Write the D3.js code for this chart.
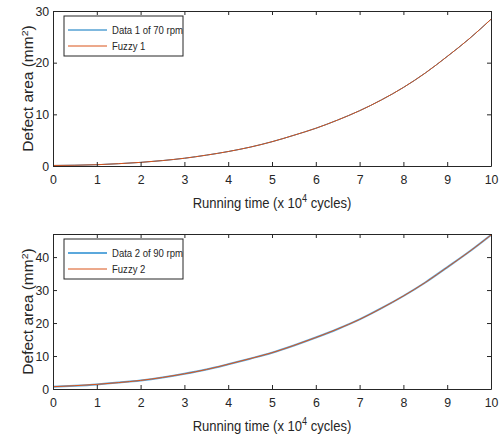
<!DOCTYPE html>
<html>
<head>
<meta charset="utf-8">
<script src="https://cdn.jsdelivr.net/npm/d3@7"></script>
<style>
  body { margin: 0; background: #fff; }
  text { font-family: "Liberation Sans", Arial, sans-serif; fill: #262626; }
</style>
</head>
<body>
<script>
// running time (x 10^4 cycles)
var cycles = [0, 0.5, 1, 1.5, 2, 2.5, 3, 3.5, 4, 4.5, 5, 5.5, 6, 6.5, 7, 7.5, 8, 8.5, 9, 9.5, 10];
// defect area, 70 rpm
var data70 = [0.1, 0.15, 0.25, 0.45, 0.7, 1.05, 1.5, 2.1, 2.8, 3.65, 4.7, 5.95, 7.3, 8.9, 10.7, 12.8, 15.2, 18.0, 21.2, 24.6, 28.4];
var fuzzy70 = [0.1, 0.15, 0.25, 0.45, 0.7, 1.05, 1.5, 2.1, 2.8, 3.65, 4.7, 5.95, 7.3, 8.9, 10.7, 12.8, 15.2, 18.0, 21.2, 24.6, 28.4];
// defect area, 90 rpm
var data90 = [0.7, 1.0, 1.4, 1.95, 2.6, 3.5, 4.6, 5.9, 7.5, 9.2, 11.0, 13.2, 15.6, 18.2, 21.1, 24.5, 28.2, 32.3, 36.9, 41.6, 46.7];
var fuzzy90 = [0.7, 1.0, 1.4, 1.95, 2.6, 3.5, 4.6, 5.9, 7.5, 9.2, 11.0, 13.2, 15.6, 18.2, 21.1, 24.5, 28.2, 32.3, 36.9, 41.6, 46.7];
var xTicks = [0, 1, 2, 3, 4, 5, 6, 7, 8, 9, 10];

var sx = 0.83; // legend text is narrow

var svg = d3.select("body").append("svg")
    .attr("width", 500).attr("height", 434);

function drawPanel(top, yMax, yTicks, dataVals, fuzzyVals, names, styles) {
    var left = 53, right = 491, bottom = top + 155;
    var x = d3.scaleLinear().domain([0, 10]).range([left, right]);
    var y = d3.scaleLinear().domain([0, yMax]).range([bottom, top]);
    var g = svg.append("g");

    var line = d3.line()
        .x(function(d, i) { return x(cycles[i]); })
        .y(function(d) { return y(d); })
        .curve(d3.curveMonotoneX);

    g.append("path").attr("d", line(dataVals))
        .attr("fill", "none").attr("stroke", styles.blue).attr("stroke-width", styles.blueW);
    g.append("path").attr("d", line(fuzzyVals))
        .attr("fill", "none").attr("stroke", styles.orange).attr("stroke-width", 1);

    // axes, ticks inward on all four sides
    var ax = d3.axisBottom(x).tickValues(xTicks).tickSizeInner(-4).tickSizeOuter(0).tickPadding(9);
    var ay = d3.axisLeft(y).tickValues(yTicks).tickSizeInner(-4).tickSizeOuter(0).tickPadding(4);
    var axT = d3.axisTop(x).tickValues(xTicks).tickSizeInner(-4).tickSizeOuter(0).tickFormat("");
    var ayR = d3.axisRight(y).tickValues(yTicks).tickSizeInner(-4).tickSizeOuter(0).tickFormat("");

    [[ax, "translate(0," + bottom + ")"], [ay, "translate(" + left + ",0)"],
     [axT, "translate(0," + top + ")"], [ayR, "translate(" + right + ",0)"]].forEach(function(a) {
        var s = g.append("g").attr("transform", a[1]).call(a[0]);
        s.selectAll("path,line").attr("stroke", "#262626");
        s.selectAll("text").style("font-size", "13px").attr("fill", "#262626")
            .style("font-family", "'Liberation Sans', Arial, sans-serif")
            .attr("transform", "scale(0.95,1)");
    });

    // x label
    var xl = g.append("text")
        .attr("transform", "translate(" + (left + right) / 2 + "," + (bottom + 42) + ") scale(0.9,1)")
        .attr("text-anchor", "middle").style("font-size", "14.5px");
    xl.append("tspan").text("Running time (x 10");
    xl.append("tspan").attr("dy", -6).style("font-size", "10px").text("4");
    xl.append("tspan").attr("dy", 6).text(" cycles)");

    // y label
    var yl = g.append("text")
        .attr("transform", "translate(33," + (top + bottom) / 2 + ") scale(0.9,1) rotate(-90)")
        .attr("text-anchor", "middle").style("font-size", "15.5px");
    yl.append("tspan").text("Defect area (mm");
    yl.append("tspan").attr("dy", -6).style("font-size", "10.5px").text("2");
    yl.append("tspan").attr("dy", 6).text(")");

    // legend
    var lg = g.append("g").attr("transform", "translate(64," + (top + 5) + ")");
    lg.append("rect").attr("width", 119).attr("height", 40)
        .attr("fill", "#fff").attr("stroke", "#262626").attr("stroke-width", 1);
    var rows = [[names[0], styles.blue, styles.blueW], [names[1], styles.orange, 1]];
    rows.forEach(function(r, i) {
        var yy = 14 + i * 16;
        lg.append("line").attr("x1", 4).attr("x2", 43).attr("y1", yy).attr("y2", yy)
            .attr("stroke", r[1]).attr("stroke-width", r[2]);
        lg.append("text")
            .attr("transform", "translate(48," + (yy + 4) + ") scale(" + sx + ",1)")
            .style("font-size", "11.5px").text(r[0]);
    });
}

drawPanel(11, 30, [0, 10, 20, 30], data70, fuzzy70, ["Data 1 of 70 rpm", "Fuzzy 1"],
    { blue: "#0072BD", blueW: 1, orange: "#D95319" });
drawPanel(234, 47, [0, 10, 20, 30, 40], data90, fuzzy90, ["Data 2 of 90 rpm", "Fuzzy 2"],
    { blue: "#5BA8DC", blueW: 2, orange: "#D95319" });
</script>
</body>
</html>
